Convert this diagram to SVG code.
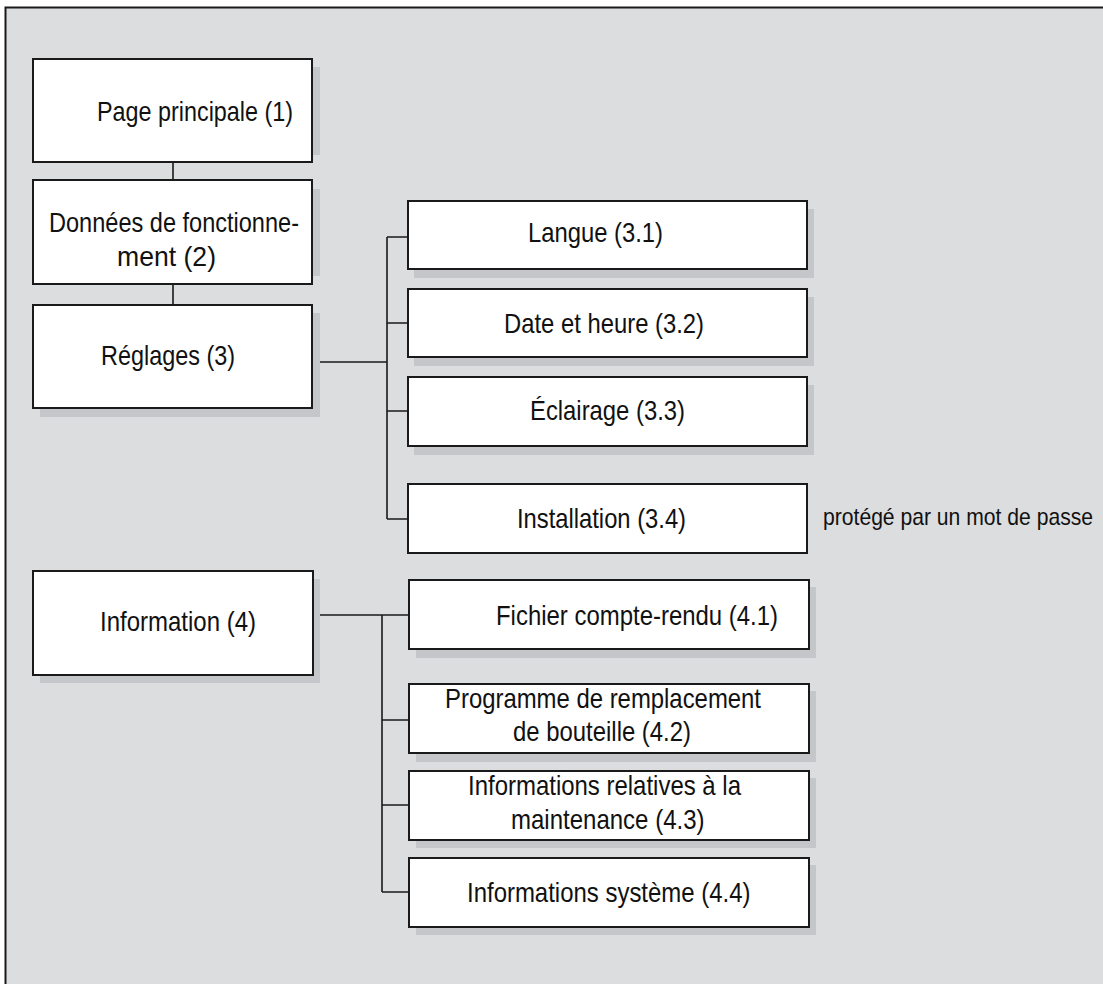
<svg xmlns="http://www.w3.org/2000/svg" width="1103" height="984" viewBox="0 0 1103 984">
<style>
.bg{fill:#DCDDDF}
.frame{fill:none;stroke:#1a1a1a;stroke-width:2}
.box{fill:#ffffff;stroke:#1a1a1a;stroke-width:2}
.sh{fill:#C5C6C9}
.conn{fill:none;stroke:#1a1a1a;stroke-width:1.6}
text{font-family:"Liberation Sans",Arial,sans-serif;font-size:28px;fill:#111111}
.note{font-size:24px}
</style>
<rect class="bg" x="6" y="8" width="1097" height="976"/>
<path class="frame" d="M5.5,984 V7.5 H1103"/>

<g id="connectors">
<path class="conn" d="M173,162 V180 M173,284 V305"/>
<path class="conn" d="M312,362 H387 M387,237 V519 M387,237 H408 M387,323 H408 M387,411 H408 M387,519 H408"/>
<path class="conn" d="M313,615 H409 M382,615 V892 M382,720 H409 M382,805 H409 M382,892 H409"/>
</g>

<g id="n1">
<rect class="sh" x="312" y="67" width="8" height="88"/>
<rect class="box" x="33" y="59" width="279" height="103"/>
<text x="97" y="121" textLength="196" lengthAdjust="spacingAndGlyphs">Page principale (1)</text>
</g>
<g id="n2">
<rect class="sh" x="312" y="189" width="8" height="87"/>
<rect class="box" x="33" y="180" width="279" height="104"/>
<text x="49" y="232" textLength="250" lengthAdjust="spacingAndGlyphs">Données de fonctionne-</text>
<text x="117" y="265.5" textLength="99" lengthAdjust="spacingAndGlyphs">ment (2)</text>
</g>
<g id="n3">
<rect class="sh" x="40" y="313" width="280" height="104"/>
<rect class="box" x="33" y="305" width="279" height="103"/>
<text x="101" y="365" textLength="134" lengthAdjust="spacingAndGlyphs">Réglages (3)</text>
</g>
<g id="n31">
<rect class="sh" x="414" y="209" width="400" height="69"/>
<rect class="box" x="408" y="201" width="399" height="68"/>
<text x="528" y="242" textLength="135" lengthAdjust="spacingAndGlyphs">Langue (3.1)</text>
</g>
<g id="n32">
<rect class="sh" x="414" y="297" width="400" height="69"/>
<rect class="box" x="408" y="289" width="399" height="68"/>
<text x="504" y="333" textLength="200" lengthAdjust="spacingAndGlyphs">Date et heure (3.2)</text>
</g>
<g id="n33">
<rect class="sh" x="414" y="385" width="400" height="70"/>
<rect class="box" x="408" y="377" width="399" height="69"/>
<text x="530" y="419.5" textLength="155" lengthAdjust="spacingAndGlyphs">Éclairage (3.3)</text>
</g>
<g id="n34">
<rect class="box" x="408" y="484" width="399" height="69"/>
<text x="517" y="527.5" textLength="169" lengthAdjust="spacingAndGlyphs">Installation (3.4)</text>
</g>
<g id="note34">
<text class="note" x="823" y="525" textLength="270" lengthAdjust="spacingAndGlyphs">protégé par un mot de passe</text>
</g>
<g id="n4">
<rect class="sh" x="40" y="579" width="280" height="104"/>
<rect class="box" x="33" y="571" width="280" height="104"/>
<text x="100" y="631" textLength="156" lengthAdjust="spacingAndGlyphs">Information (4)</text>
</g>
<g id="n41">
<rect class="sh" x="416" y="587" width="400" height="71"/>
<rect class="box" x="409" y="580" width="400" height="69"/>
<text x="496" y="625" textLength="282" lengthAdjust="spacingAndGlyphs">Fichier compte-rendu (4.1)</text>
</g>
<g id="n42">
<rect class="sh" x="416" y="691" width="400" height="71"/>
<rect class="box" x="409" y="684" width="400" height="69"/>
<text x="445" y="707.5" textLength="316" lengthAdjust="spacingAndGlyphs">Programme de remplacement</text>
<text x="513" y="741" textLength="178" lengthAdjust="spacingAndGlyphs">de bouteille (4.2)</text>
</g>
<g id="n43">
<rect class="sh" x="416" y="778" width="400" height="70"/>
<rect class="box" x="409" y="771" width="400" height="69"/>
<text x="468" y="795" textLength="273" lengthAdjust="spacingAndGlyphs">Informations relatives à la</text>
<text x="511" y="828.5" textLength="193.5" lengthAdjust="spacingAndGlyphs">maintenance (4.3)</text>
</g>
<g id="n44">
<rect class="sh" x="416" y="865" width="400" height="70"/>
<rect class="box" x="409" y="858" width="400" height="69"/>
<text x="467" y="901.5" textLength="283.5" lengthAdjust="spacingAndGlyphs">Informations système (4.4)</text>
</g>
</svg>
